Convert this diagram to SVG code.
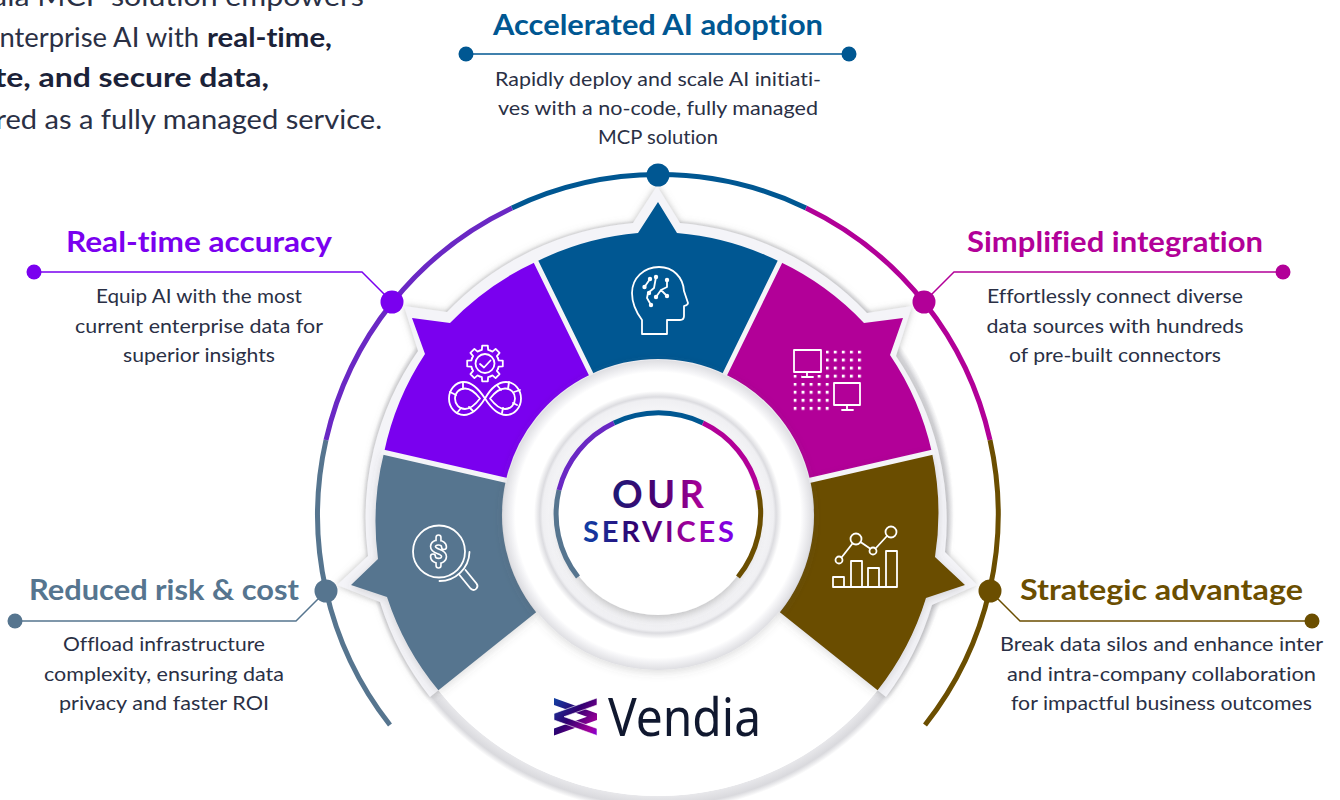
<svg xmlns="http://www.w3.org/2000/svg" xmlns:xlink="http://www.w3.org/1999/xlink" width="1340" height="800" viewBox="0 0 1340 800">
<style>
text{font-family:"Lato","Noto Sans",sans-serif;font-variant-ligatures:none}
.h{font-size:28px;font-weight:700;text-anchor:middle}
.d{font-size:20px;font-weight:400;fill:#2a3045;text-anchor:middle}
.t{font-size:27px;font-weight:400;fill:#2a3045;text-anchor:end}
.tb{font-size:27px;font-weight:700;fill:#1b2238;text-anchor:end}
.ic{fill:none;stroke:#fff;stroke-width:1.8;stroke-linejoin:round;stroke-linecap:round}
.w{fill:#fff}
.gap{stroke:#f4f4f8;stroke-width:5;fill:none}
.arc{fill:none;stroke-width:5}
.ln{fill:none;stroke-width:1.5}
.blue{fill:#005792;color:#005792}.purple{fill:#7a00ef;color:#7a00ef}.mag{fill:#b20098;color:#b20098}.brown{fill:#6b4e00;color:#6b4e00}.slate{fill:#56758f;color:#56758f}
</style>
<defs>
<filter id="s1" x="-10%" y="-10%" width="120%" height="120%"><feDropShadow dx="0" dy="0" stdDeviation="3.5" flood-color="#888" flood-opacity=".55"/></filter>
<filter id="s3" x="-20%" y="-20%" width="140%" height="140%"><feDropShadow dx="0" dy="2" stdDeviation="5" flood-color="#555" flood-opacity=".22"/></filter>
<filter id="s4" x="-20%" y="-20%" width="140%" height="140%"><feDropShadow dx="0" dy="3" stdDeviation="4" flood-color="#666" flood-opacity=".4"/></filter>
<radialGradient id="gBand" gradientUnits="userSpaceOnUse" cx="658" cy="515" r="296"><stop offset=".945" stop-color="#eaeaed"/><stop offset=".98" stop-color="#d9d9dd"/><stop offset="1" stop-color="#fff"/></radialGradient>
<radialGradient id="gHub" gradientUnits="userSpaceOnUse" cx="658" cy="515" r="155"><stop offset=".64" stop-color="#f8f8fa"/><stop offset=".745" stop-color="#efeff2"/><stop offset=".762" stop-color="#dcdce0"/><stop offset=".8" stop-color="#fff"/><stop offset=".92" stop-color="#fff"/><stop offset=".94" stop-color="#f6f6f8"/><stop offset="1" stop-color="#dedee2"/></radialGradient>
<linearGradient id="gOur" gradientUnits="userSpaceOnUse" x1="612" y1="0" x2="704" y2="0"><stop offset="0" stop-color="#1c1a78"/><stop offset=".5" stop-color="#4a0070"/><stop offset="1" stop-color="#b0009c"/></linearGradient>
<linearGradient id="gSrv" gradientUnits="userSpaceOnUse" x1="583" y1="0" x2="734" y2="0"><stop offset="0" stop-color="#1040a8"/><stop offset=".35" stop-color="#300070"/><stop offset=".7" stop-color="#a0009a"/><stop offset="1" stop-color="#7a00ef"/></linearGradient>
<linearGradient id="gLogo" gradientUnits="userSpaceOnUse" x1="552" y1="697" x2="598" y2="738"><stop offset="0" stop-color="#1048a8"/><stop offset=".45" stop-color="#300070"/><stop offset=".8" stop-color="#a0009a"/><stop offset="1" stop-color="#7a00ef"/></linearGradient>
<pattern id="dots" patternUnits="userSpaceOnUse" x="793.5" y="350.5" width="8.05" height="8.05"><rect width="3" height="3" fill="#fff"/></pattern>
<path id="tooth" d="M-5.36,-12.93 L-3.15,-13.64 L-2.8,-17.8 L2.8,-17.8 L3.15,-13.64 L5.36,-12.93"/>
</defs>

<g id="intro">
<text class="t" x="364" y="6" textLength="425" lengthAdjust="spacingAndGlyphs">Vendia MCP solution empowers</text>
<text class="t" x="199" y="47" textLength="214" lengthAdjust="spacingAndGlyphs">enterprise AI with</text>
<text class="tb" x="332" y="47" textLength="125" lengthAdjust="spacingAndGlyphs">real-time,</text>
<text class="tb" x="269" y="87" textLength="367" lengthAdjust="spacingAndGlyphs">accurate, and secure data,</text>
<text class="t" x="382" y="129" textLength="462" lengthAdjust="spacingAndGlyphs">delivered as a fully managed service.</text>
</g>

<g id="hub">
<circle cx="658" cy="515" r="296" fill="url(#gBand)"/>
<circle cx="658" cy="515" r="281" class="w"/>
<path d="M633,223 L657,186 L680,223 A292,292 0 0 1 867,313 L912,306 L896,356 A292,292 0 0 1 945,552 L977,585 L932,605 A292,292 0 0 1 886,697 L658,515 L430,697 A292,292 0 0 1 380,602 L337,585 L368,556 A292,292 0 0 1 418,351 L404,306 L447,312 A292,292 0 0 1 633,223 Z" fill="#f4f4f8" filter="url(#s1)"/>
<path d="M658,515 L438.4,690.3 A281,281 0 0 0 877.6,690.3 Z" class="w"/>
</g>

<g id="ring-segments">
<path class="arc" stroke="#56758f" d="M390,725 A340,340 0 0 1 326,440"/>
<path class="arc" stroke="#6a28c4" d="M326,440 A340,340 0 0 1 512,208"/>
<path class="arc" stroke="#005792" d="M512,208 A340,340 0 0 1 806,208"/>
<path class="arc" stroke="#b20098" d="M806,208 A340,340 0 0 1 990,440"/>
<path class="arc" stroke="#6b4e00" d="M990,440 A340,340 0 0 1 925,725"/>
</g>

<g id="connectors">
<path class="ln" stroke="#005792" d="M466,54 H849"/>
<path class="ln" stroke="#7a00ef" d="M34,272 H362 L392,302"/>
<path class="ln" stroke="#b20098" d="M1283,272 H954 L924,302"/>
<path class="ln" stroke="#56758f" d="M15,621 H296 L326,591"/>
<path class="ln" stroke="#6b4e00" d="M1312,621 H1020 L990,591"/>
</g>

<g id="node-reduced-risk" class="slate">
<path filter="url(#s3)" d="M384.1,452.3 A283,283 0 0 0 378,559 L351,585 L387,597 A283,283 0 0 0 438.4,690.3 L536.1,612.3 A156,156 0 0 1 505.9,480.2 Z"/>
<g class="ic"><circle cx="439" cy="551.500" r="26"/><path d="M469.500,552 A30,30 0 0 1 439.500,581"/><path d="M459.500,575 L470.500,588.500 Q474,591.500 476.500,588.500 Q478.500,586 476.500,583.500 L465.500,570"/></g>
<g fill="none"><path stroke="#fff" stroke-width="6.500" stroke-linecap="round" d="M444,547 C444,541.500 433,541 433,546.500 C433,552.500 444,550.500 444,556.500 C444,562.500 433,562 433,556.500 M438.500,537.500 V541 M438.500,562 V565.500"/><path stroke="#56758f" stroke-width="3.300" stroke-linecap="round" d="M444,547 C444,541.500 433,541 433,546.500 C433,552.500 444,550.500 444,556.500 C444,562.500 433,562 433,556.500 M438.500,537.500 V541 M438.500,562 V565.500"/></g>
<circle cx="326" cy="591" r="11.500"/><circle cx="15" cy="621" r="7.500"/>
<text class="h" x="164" y="600" textLength="270" lengthAdjust="spacingAndGlyphs">Reduced risk &amp; cost</text>
<text class="d" x="164" y="651" textLength="202" lengthAdjust="spacingAndGlyphs">Offload infrastructure</text>
<text class="d" x="164" y="681" textLength="240" lengthAdjust="spacingAndGlyphs">complexity, ensuring data</text>
<text class="d" x="164" y="710" textLength="210" lengthAdjust="spacingAndGlyphs">privacy and faster ROI</text>
</g>

<g id="node-real-time" class="purple">
<path d="M384.1,452.3 A283,283 0 0 1 425,354 L412,318 L450,323 A283,283 0 0 1 536.1,261.8 L590.3,374.4 A156,156 0 0 0 505.9,480.2 Z"/>
<g class="ic"><circle cx="485" cy="363.500" r="9.500"/><path d="M480,364 L484,367.500 L490.500,360.500"/>
<g transform="translate(485,363.500)"><use xlink:href="#tooth" href="#tooth"/><use href="#tooth" transform="rotate(45)"/><use href="#tooth" transform="rotate(90)"/><use href="#tooth" transform="rotate(135)"/><use href="#tooth" transform="rotate(180)"/><use href="#tooth" transform="rotate(225)"/><use href="#tooth" transform="rotate(270)"/><use href="#tooth" transform="rotate(315)"/></g>
<path d="M485,398.500 C478,388 470,382 464,382 C455,382 449,390 449,398.500 C449,407 455,415 464,415 C472,415 479,408 485,398.500 C491,388 498,382 506,382 C515,382 521,390 521,398.500 C521,407 515,415 506,415 C498,415 491,408 485,398.500 Z"/>
<path d="M480,398.500 C475,392 470,388.500 465,388.500 C459,388.500 455,393 455,398.500 C455,404 459,409 465,409 C470,409 475,405 480,398.500 Z M490,398.500 C495,392 500,388.500 505,388.500 C511,388.500 515,393 515,398.500 C515,404 511,409 505,409 C500,409 495,405 490,398.500 Z"/>
<path d="M463,382 V388.500 M450,392 L456,395 M457,413 L461,408 M473,411 L469,407 M497,385 L501,390 M509,382 L508,389 M514,392 L520,390 M517,405 L513,403 M502,413 L503,408"/></g>
<circle cx="392" cy="302" r="11.500"/><circle cx="34" cy="272" r="7.500"/>
<text class="h" x="199" y="252" textLength="266" lengthAdjust="spacingAndGlyphs">Real-time accuracy</text>
<text class="d" x="199" y="303" textLength="206" lengthAdjust="spacingAndGlyphs">Equip AI with the most</text>
<text class="d" x="199" y="333" textLength="248" lengthAdjust="spacingAndGlyphs">current enterprise data for</text>
<text class="d" x="199" y="362" textLength="152" lengthAdjust="spacingAndGlyphs">superior insights</text>
</g>

<g id="node-accelerated" class="blue">
<path d="M536.1,261.8 A283,283 0 0 1 638,233 L658,202 L677,233 A283,283 0 0 1 779.900,261.8 L725.7,374.4 A156,156 0 0 0 590.3,374.4 Z"/>
<g class="ic"><path d="M642,334 V320 C636,312 632,304 632,293 C632,278 644,267 659,267 C673,267 683,277 684,291 L688,303 Q688,305 684,306 V316 Q684,320 680,320 H667 V334 Z"/>
<path d="M644.500,287 L650,279 M656,277 L654,288 L648,293 L647,298 L651,305 M667,280 L667,287 L661,290 L656,297 M661,290 L667,296"/></g>
<g fill="#fff"><circle cx="644.500" cy="287" r="2.200"/><circle cx="650" cy="279" r="2.200"/><circle cx="656" cy="277" r="2.200"/><circle cx="667" cy="280" r="2.200"/><circle cx="649" cy="293" r="2.200"/><circle cx="651" cy="305" r="2.200"/><circle cx="656" cy="297" r="2.200"/><circle cx="667" cy="296" r="2.200"/></g>
<circle cx="658" cy="175" r="11.500"/><circle cx="466" cy="54" r="7.500"/><circle cx="849" cy="54" r="7.500"/>
<text class="h" x="658" y="35" textLength="330" lengthAdjust="spacingAndGlyphs">Accelerated AI adoption</text>
<text class="d" x="658" y="86" textLength="326" lengthAdjust="spacingAndGlyphs">Rapidly deploy and scale AI initiati-</text>
<text class="d" x="658" y="115" textLength="320" lengthAdjust="spacingAndGlyphs">ves with a no-code, fully managed</text>
<text class="d" x="658" y="144" textLength="120" lengthAdjust="spacingAndGlyphs">MCP solution</text>
</g>

<g id="node-simplified" class="mag">
<path d="M779.900,261.8 A283,283 0 0 1 864,323 L903,318 L890,355 A283,283 0 0 1 931.900,452.3 L810.100,480.2 A156,156 0 0 0 725.700,374.4 Z"/>
<rect x="826" y="350.500" width="37" height="28" fill="url(#dots)"/><rect x="793.500" y="383" width="36" height="29" fill="url(#dots)"/><rect x="793.500" y="375" width="8" height="5" fill="url(#dots)"/><rect x="817" y="375" width="13" height="5" fill="url(#dots)"/>
<g class="ic" stroke-linecap="butt"><rect x="794" y="350" width="27" height="22"/><path d="M807,372 V377 M802,377 H813"/><rect x="834" y="383" width="26" height="22"/><path d="M847,405 V410 M842,410 H853"/></g>
<circle cx="924" cy="302" r="11.500"/><circle cx="1283" cy="272" r="7.500"/>
<text class="h" x="1115" y="252" textLength="296" lengthAdjust="spacingAndGlyphs">Simplified integration</text>
<text class="d" x="1115" y="303" textLength="256" lengthAdjust="spacingAndGlyphs">Effortlessly connect diverse</text>
<text class="d" x="1115" y="333" textLength="257" lengthAdjust="spacingAndGlyphs">data sources with hundreds</text>
<text class="d" x="1115" y="362" textLength="212" lengthAdjust="spacingAndGlyphs">of pre-built connectors</text>
</g>

<g id="node-strategic" class="brown">
<path filter="url(#s3)" d="M931.900,452.3 A283,283 0 0 1 935,557 L965,585 L926,598 A283,283 0 0 1 877.600,690.3 L779.900,612.3 A156,156 0 0 0 810.100,480.2 Z"/>
<g class="ic" stroke-linecap="butt"><path d="M833,587 H897 M833,587 V577 H844 V587 M851,587 V561 H862 V587 M868,587 V568 H879 V587 M886,587 V551 H897 V587"/>
<circle cx="839" cy="560" r="3.500"/><circle cx="856" cy="539" r="5.500"/><circle cx="873" cy="551" r="3.500"/><circle cx="891" cy="532" r="5.500"/><path d="M841.500,557.500 L852.500,543.500 M860.500,542 L870,548.500 M875.500,548.500 L887,536"/></g>
<circle cx="990" cy="591" r="11.500"/><circle cx="1312" cy="621" r="7.500"/>
<text class="h" x="1161.500" y="600" textLength="283" lengthAdjust="spacingAndGlyphs">Strategic advantage</text>
<text class="d" x="1161.500" y="651" textLength="323" lengthAdjust="spacingAndGlyphs">Break data silos and enhance inter</text>
<text class="d" x="1161.500" y="681" textLength="309" lengthAdjust="spacingAndGlyphs">and intra-company collaboration</text>
<text class="d" x="1161.500" y="710" textLength="301" lengthAdjust="spacingAndGlyphs">for impactful business outcomes</text>
</g>

<g id="gaps">
<path class="gap" d="M535,259.600 L592,376 M781,259.600 L724,376 M381.500,451.700 L508,480.700 M934.500,451.700 L808,480.700"/>
</g>

<g id="center">
<circle cx="658" cy="515" r="155" fill="url(#gHub)" filter="url(#s3)"/>
<circle cx="658" cy="515" r="100" class="w" filter="url(#s4)"/>
<path class="arc" stroke="#56758f" d="M578,577 A101.500,101.500 0 0 1 559,490"/>
<path class="arc" stroke="#6a28c4" d="M559,490 A101.500,101.500 0 0 1 614,423"/>
<path class="arc" stroke="#005792" d="M614,423 A101.500,101.500 0 0 1 703,423"/>
<path class="arc" stroke="#b20098" d="M703,423 A101.500,101.500 0 0 1 758,490"/>
<path class="arc" stroke="#6b4e00" d="M758,490 A101.500,101.500 0 0 1 738,577"/>
<text x="658" y="508" text-anchor="middle" font-size="38" font-weight="700" fill="url(#gOur)" textLength="92" lengthAdjust="spacing">OUR</text>
<text x="658.500" y="542" text-anchor="middle" font-size="29" font-weight="700" fill="url(#gSrv)" textLength="151" lengthAdjust="spacing">SERVICES</text>
</g>

<g id="logo">
<path fill="url(#gLogo)" d="M554,698 L597,713.500 V720 L554,735.500 V728.500 L587,716.700 L554,705 Z"/>
<path fill="url(#gLogo)" stroke="#fff" stroke-width=".6" d="M597,698 L554,713.500 V720 L597,735.500 V728.500 L564,716.700 L597,705 Z"/>
<text x="608" y="736" font-size="52" fill="#10182f" style="font-family:'Noto Sans','Open Sans',sans-serif" textLength="153" lengthAdjust="spacingAndGlyphs">Vendia</text>
</g>
</svg>
